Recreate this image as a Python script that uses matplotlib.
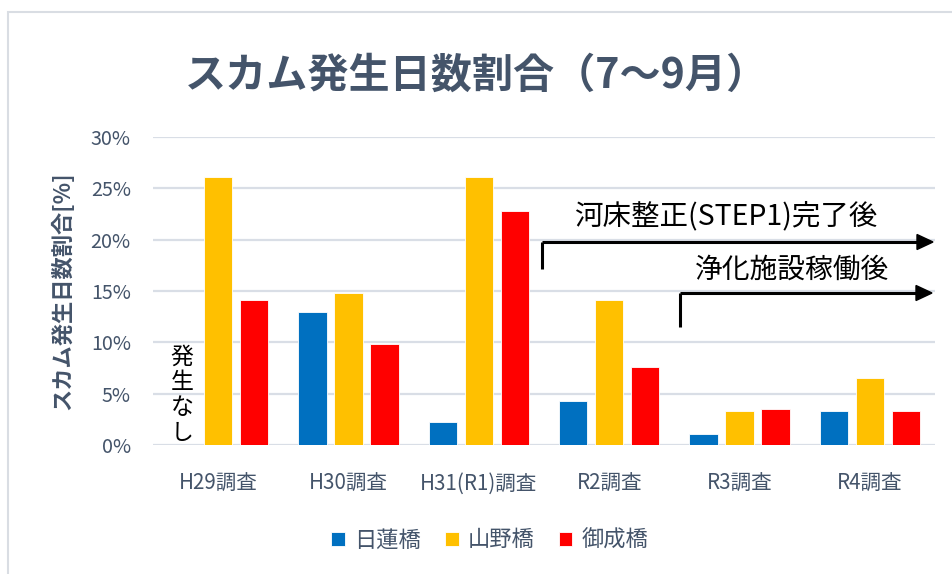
import matplotlib
matplotlib.use("Agg")
import matplotlib.pyplot as plt
import numpy as np
from matplotlib.patches import Rectangle

plt.rcParams['font.family'] = ['Noto Sans CJK JP', 'DejaVu Sans']

# ---- data ----
categories = ["H29調査", "H30調査", "H31(R1)調査", "R2調査", "R3調査", "R4調査"]
series_names = ["日蓮橋", "山野橋", "御成橋"]
nichiren = [np.nan, 13.0, 2.2, 4.3, 1.1, 3.3]   # H29: no occurrence
yamano = [26.1, 14.8, 26.1, 14.1, 3.3, 6.5]
onari = [14.1, 9.8, 22.8, 7.6, 3.5, 3.3]
colors = ["#0070C0", "#FFC000", "#FF0000"]
yticks = [0, 5, 10, 15, 20, 25, 30]

W, H = 952, 574
fig = plt.figure(figsize=(W / 100, H / 100), dpi=100)

def fx(px):
    return px / W

def fy(py):
    return 1 - py / H

# chart frame
fig.patches.append(Rectangle((fx(8), fy(H + 10)), 1.2, fy(12) - fy(H + 10),
                             transform=fig.transFigure, fill=False,
                             edgecolor="#D9DDE3", linewidth=1.5))

left, right, top, bottom = 153, 935, 137, 445
ax = fig.add_axes([fx(left), fy(bottom), fx(right) - fx(left), fy(top) - fy(bottom)])

x = np.arange(len(categories))
bw = 0.219
off = 0.276
for i, (vals, c, name) in enumerate(zip([nichiren, yamano, onari], colors, series_names)):
    ax.bar(x + (i - 1) * off, np.array(vals) / 100, width=bw, color=c,
           label=name, zorder=3, edgecolor="white", linewidth=0.6)

ax.set_xlim(-0.5, len(categories) - 0.5)
ax.set_ylim(0, 0.30)
ax.set_yticks(np.array(yticks) / 100)
ax.set_yticklabels([f"{t}%" for t in yticks])
ax.set_xticks(x)
ax.set_xticklabels(categories)

text_col = "#44546A"
ax.tick_params(axis="both", length=0, labelcolor=text_col)
ax.tick_params(axis="x", pad=20, labelsize=14.8)
ax.tick_params(axis="y", pad=16, labelsize=14.2)
ax.grid(axis="y", color="#D9DEE6", linewidth=1.6, zorder=0)
for s in ax.spines.values():
    s.set_visible(False)
ax.set_facecolor("none")

# y-axis title
fig.text(fx(63), fy(291), "スカム発生日数割合[%]", rotation=90, ha="center", va="center",
         fontsize=16, fontweight="bold", color=text_col)

# chart title
fig.text(fx(476), fy(76), "スカム発生日数割合（7～9月）", ha="center", va="center",
         fontsize=29.6, fontweight="bold", color=text_col)

# no-occurrence note for 日蓮橋 in H29
ax.text(0 - off, 0.001, "発\n生\nな\nし", ha="center", va="bottom",
        fontsize=16.5, color="black", linespacing=1.12, zorder=4)

# period arrows
def period_arrow(x0, y_line, y_bottom, x_tip, label, label_x, label_y, size):
    fig.add_artist(plt.Line2D([fx(x0), fx(x0)], [fy(y_bottom), fy(y_line)],
                              transform=fig.transFigure, color="black", linewidth=2.2,
                              solid_capstyle="butt"))
    fig.add_artist(plt.Line2D([fx(x0), fx(x_tip - 14)], [fy(y_line), fy(y_line)],
                              transform=fig.transFigure, color="black", linewidth=2.2,
                              solid_capstyle="butt"))
    fig.patches.append(plt.Polygon([[fx(x_tip - 16), fy(y_line - 7.5)],
                                    [fx(x_tip), fy(y_line)],
                                    [fx(x_tip - 16), fy(y_line + 7.5)]],
                                   closed=True, transform=fig.transFigure,
                                   facecolor="black", edgecolor="black"))
    fig.text(fx(label_x), fy(label_y), label, ha="center", va="center",
             fontsize=size, color="black")

period_arrow(542, 242, 269, 933, "河床整正(STEP1)完了後", 726, 216, 20.5)
period_arrow(680, 293, 327, 932, "浄化施設稼働後", 792, 270, 20)

# legend
leg = fig.legend(loc="center", bbox_to_anchor=(fx(490), fy(540)), ncol=3,
                 frameon=False, fontsize=16, handlelength=0.6, handleheight=0.6,
                 handletextpad=0.42, columnspacing=1.1)
for t in leg.get_texts():
    t.set_color(text_col)

fig.savefig("out.png", dpi=100)
